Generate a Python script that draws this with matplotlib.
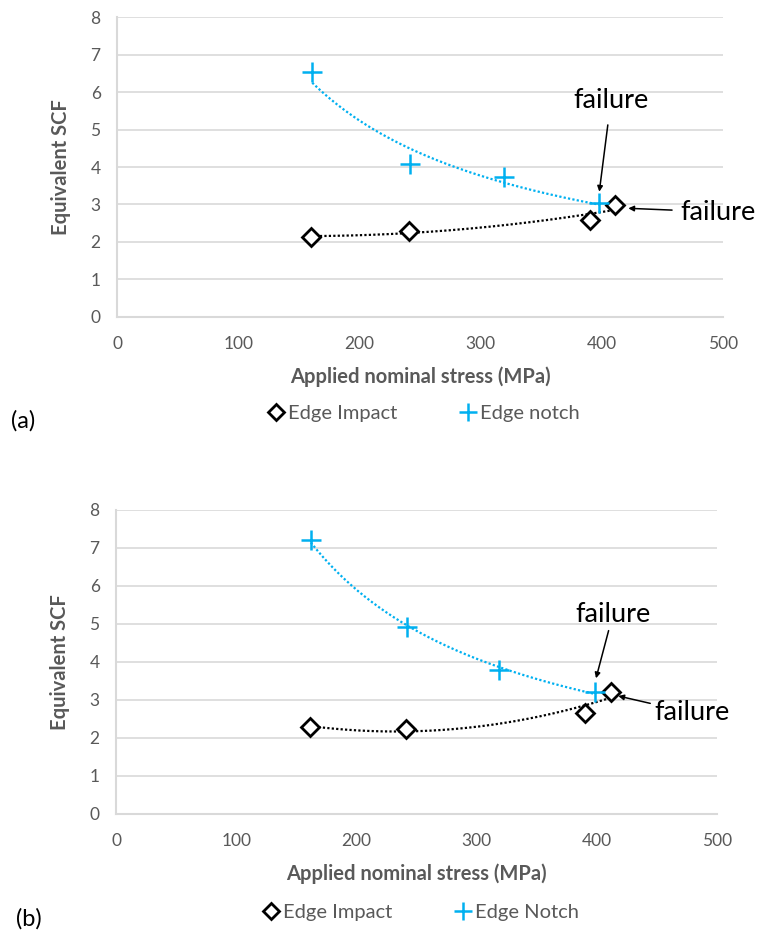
import numpy as np
import matplotlib
matplotlib.use("Agg")
import matplotlib.pyplot as plt
from matplotlib.lines import Line2D

plt.rcParams['font.family'] = ['Lato', 'DejaVu Sans']

# Panel (a)
impact_a_x = [160, 241, 390, 411]
impact_a_y = [2.13, 2.29, 2.59, 2.98]
notch_a_x = [161, 242, 319, 398]
notch_a_y = [6.53, 4.07, 3.74, 3.03]

# Panel (b)
impact_b_x = [161, 241, 390, 412]
impact_b_y = [2.28, 2.24, 2.66, 3.21]
notch_b_x = [162, 242, 319, 399]
notch_b_y = [7.20, 4.92, 3.78, 3.21]

x_ticks = [0, 100, 200, 300, 400, 500]
y_ticks = [0, 1, 2, 3, 4, 5, 6, 7, 8]

BLUE = '#00b0f0'
GRID = '#d9d9d9'
TXT = '#595959'

W, H = 758, 932
fig = plt.figure(figsize=(W / 100, H / 100), dpi=100)


def px_axes(left, top, right, bottom):
    return fig.add_axes([left / W, 1 - bottom / H, (right - left) / W, (bottom - top) / H])


def poly_trend(ax, xs, ys, color):
    # second-order polynomial trendline
    coef = np.polyfit(xs, ys, 2)
    xx = np.linspace(min(xs), max(xs), 200)
    ax.plot(xx, np.polyval(coef, xx), linestyle=(0, (1, 1)), color=color, lw=1.6, zorder=2)


def power_trend(ax, xs, ys, color):
    # power-law trendline y = a * x**b
    b, ln_a = np.polyfit(np.log(xs), np.log(ys), 1)
    xx = np.linspace(min(xs), max(xs), 200)
    ax.plot(xx, np.exp(ln_a) * xx ** b, linestyle=(0, (1, 1)), color=color, lw=1.6, zorder=2)


def panel(ax, ix, iy, nx, ny):
    ax.set_xlim(0, 500)
    ax.set_ylim(0, 8)
    ax.set_xticks(x_ticks)
    ax.set_yticks(y_ticks)
    ax.grid(axis='y', color=GRID, lw=1.2, zorder=0)
    for s in ['top', 'right']:
        ax.spines[s].set_visible(False)
    for s in ['left', 'bottom']:
        ax.spines[s].set_color(GRID)
        ax.spines[s].set_linewidth(1.5)
    ax.tick_params(length=0, labelsize=12.5, labelcolor=TXT)
    ax.tick_params(axis='x', pad=14)
    ax.tick_params(axis='y', pad=12)
    poly_trend(ax, ix, iy, 'black')
    power_trend(ax, nx, ny, BLUE)
    ax.plot(ix, iy, linestyle='none', marker='D', ms=9.5, mfc='white', mec='black', mew=2, zorder=4)
    ax.plot(nx, ny, linestyle='none', marker='+', ms=15, mec=BLUE, mew=1.8, zorder=4)
    ax.set_xlabel('Applied nominal stress (MPa)', fontsize=14.5, fontweight='bold', color=TXT, labelpad=10)
    ax.set_ylabel('Equivalent SCF', fontsize=14.5, fontweight='bold', color=TXT, labelpad=14)


def legend(cy, cx, notch_label):
    h1 = Line2D([], [], linestyle='none', marker='D', ms=8, mfc='white', mec='black', mew=2)
    h2 = Line2D([], [], linestyle='none', marker='+', ms=13, mec=BLUE, mew=1.8)
    fig.legend([h1, h2], ['Edge Impact', notch_label], loc='center',
               bbox_to_anchor=(cx / W, 1 - cy / H), ncol=2, frameon=False,
               fontsize=14.5, labelcolor=TXT, handletextpad=0.1, columnspacing=3.0,
               handlelength=1.0)


def failure(ax, text_xy, tip_xy, gap):
    ax.annotate('failure', xy=(tip_xy[0], H - tip_xy[1]), xytext=(text_xy[0], H - text_xy[1]),
                xycoords='figure pixels', textcoords='figure pixels',
                fontsize=19.5, ha='center', va='center',
                arrowprops=dict(arrowstyle='-|>', color='black', lw=1.1,
                                mutation_scale=8, shrinkA=gap, shrinkB=0))


ax1 = px_axes(117.3, 17.3, 722.7, 316.7)
panel(ax1, impact_a_x, impact_a_y, notch_a_x, notch_a_y)
legend(413, 423, 'Edge notch')
failure(ax1, (611, 100), (599.3, 191.7), 7)
failure(ax1, (718, 212), (628.3, 208.3), 4)
fig.text(11 / W, 1 - 421 / H, '(a)', fontsize=17, va='center', ha='left')

ax2 = px_axes(116.3, 509.5, 716.7, 814)
panel(ax2, impact_b_x, impact_b_y, notch_b_x, notch_b_y)
legend(912, 420, 'Edge Notch')
failure(ax2, (613, 614), (596, 678.3), 1)
failure(ax2, (692, 713), (618.3, 696), 1)
fig.text(16 / W, 1 - 919 / H, '(b)', fontsize=17, va='center', ha='left')

fig.savefig('out.png', dpi=100, facecolor='white')
